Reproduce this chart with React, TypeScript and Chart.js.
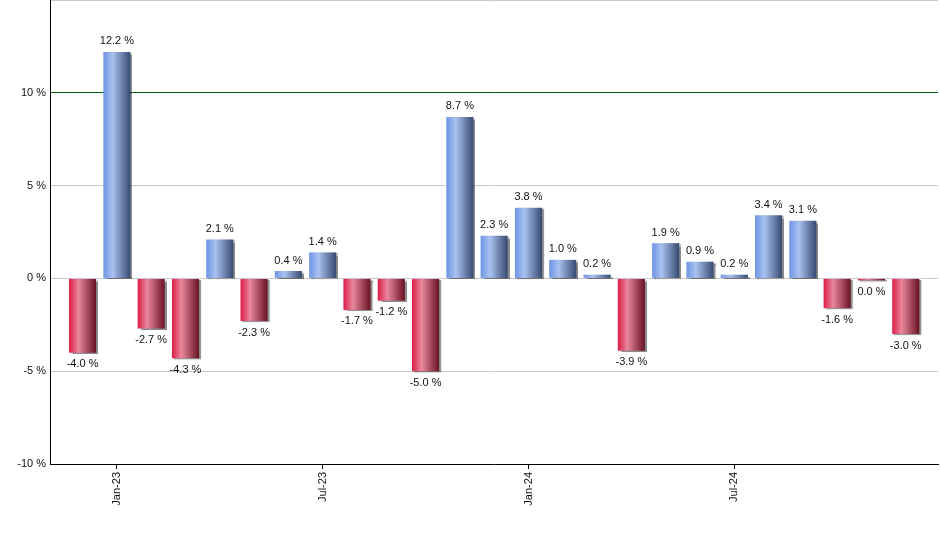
import React, { useEffect, useRef } from "react";
import { Chart, registerables } from "chart.js";

Chart.register(...registerables);

const months: string[] = [
  "Dec-22", "Jan-23", "Feb-23", "Mar-23", "Apr-23", "May-23", "Jun-23", "Jul-23",
  "Aug-23", "Sep-23", "Oct-23", "Nov-23", "Dec-23", "Jan-24", "Feb-24", "Mar-24",
  "Apr-24", "May-24", "Jun-24", "Jul-24", "Aug-24", "Sep-24", "Oct-24", "Nov-24", "Dec-24",
];
const returns: number[] = [
  -4.0, 12.2, -2.7, -4.3, 2.1, -2.3, 0.4, 1.4, -1.7, -1.2, -5.0, 8.7, 2.3, 3.8,
  1.0, 0.2, -3.9, 1.9, 0.9, 0.2, 3.4, 3.1, -1.6, -0.04, -3.0,
];
const tickIndices: number[] = [1, 7, 13, 19];
const yTicks: number[] = [-10, -5, 0, 5, 10, 15];

const FONT = "'Liberation Sans', Arial, sans-serif";

function fmt(v: number): string {
  const s = (Math.abs(v) < 0.05 ? 0 : v).toFixed(1);
  return s + " %";
}

const labelPlugin = {
  id: "valueLabels",
  afterDatasetsDraw(chart: any) {
    const ctx = chart.ctx;
    const meta = chart.getDatasetMeta(0);
    ctx.save();
    ctx.font = `11px ${FONT}`;
    ctx.fillStyle = "#111";
    ctx.textAlign = "center";
    meta.data.forEach((el: any, i: number) => {
      const v = returns[i];
      if (v >= 0) {
        ctx.textBaseline = "bottom";
        ctx.fillText(fmt(v), el.x, el.y - 5);
      } else {
        ctx.textBaseline = "top";
        ctx.fillText(fmt(v), el.x, el.y + 6);
      }
    });
    ctx.restore();
  },
};

const shadowPlugin = {
  id: "barShadow",
  beforeDatasetsDraw(chart: any) {
    const ctx = chart.ctx;
    ctx.save();
    ctx.shadowColor = "rgba(0,0,0,0.45)";
    ctx.shadowOffsetX = 2;
    ctx.shadowOffsetY = 1;
    ctx.shadowBlur = 1;
  },
  afterDatasetsDraw(chart: any) {
    chart.ctx.restore();
  },
};

export default function App() {
  const ref = useRef<HTMLCanvasElement | null>(null);
  useEffect(() => {
    if (!ref.current) return;
    const barPct = 0.79;
    const chart = new Chart(ref.current, {
      type: "bar",
      data: {
        datasets: [
          {
            data: returns.map((v, i) => ({ x: i, y: v })),
            barPercentage: barPct,
            categoryPercentage: 1,
            minBarLength: 2,
            backgroundColor: (c: any) => {
              const ch = c.chart;
              const xs = ch.scales?.x;
              const v = returns[c.dataIndex] ?? 0;
              const pos = v >= 0;
              if (!xs || !ch.chartArea) return pos ? "#7fa0e0" : "#d03050";
              const cx = xs.getPixelForValue(c.dataIndex);
              const w = (xs.getPixelForValue(1) - xs.getPixelForValue(0)) * barPct;
              const g = ch.ctx.createLinearGradient(cx - w / 2, 0, cx + w / 2, 0);
              if (pos) {
                g.addColorStop(0, "#6d94e4");
                g.addColorStop(0.35, "#a9c1f0");
                g.addColorStop(1, "#354a70");
              } else {
                g.addColorStop(0, "#dc1c46");
                g.addColorStop(0.35, "#e9879c");
                g.addColorStop(1, "#681224");
              }
              return g;
            },
            borderWidth: 0,
          },
        ],
      },
      options: {
        animation: false,
        responsive: false,
        maintainAspectRatio: false,
        layout: { padding: { top: 0, right: 2, left: 0, bottom: 0 } },
        plugins: {
          legend: { display: false },
          tooltip: { enabled: false },
        },
        scales: {
          x: {
            type: "linear",
            min: -0.95,
            max: 24.94,
            offset: false,
            afterBuildTicks: (s: any) => {
              s.ticks = tickIndices.map((v) => ({ value: v }));
            },
            afterFit: (s: any) => {
              s.height = 86;
              s.paddingLeft = 0;
              s.paddingRight = 0;
            },
            ticks: {
              autoSkip: false,
              minRotation: 90,
              maxRotation: 90,
              padding: 3,
              color: "#111",
              font: { family: FONT, size: 11 },
              callback: (v: any) => months[Math.round(Number(v))] ?? "",
            },
            grid: {
              offset: false,
              drawOnChartArea: false,
              drawTicks: true,
              tickLength: 5,
              color: "#000",
            },
            border: { display: true, color: "#000", width: 1 },
          },
          y: {
            min: -10,
            max: 15,
            afterBuildTicks: (s: any) => {
              s.ticks = yTicks.map((v) => ({ value: v }));
            },
            afterFit: (s: any) => {
              s.width = 50;
              s.paddingTop = 0;
              s.paddingBottom = 0;
            },
            ticks: {
              color: "#111",
              padding: 4,
              font: { family: FONT, size: 11 },
              callback: (v: any) => (Number(v) === 15 ? "" : `${v} %`),
            },
            grid: {
              drawTicks: false,
              color: (c: any) =>
                c.tick && c.tick.value === 10 ? "#006400" : c.tick && c.tick.value === -10 ? "rgba(0,0,0,0)" : "#c8c8c8",
              lineWidth: 1,
            },
            border: { display: true, color: "#000", width: 1 },
          },
        },
      },
      plugins: [shadowPlugin, labelPlugin],
    } as any);
    return () => chart.destroy();
  }, []);
  return (
    <div style={{ position: "fixed", left: 0, top: 0, width: 940, height: 550, background: "#fff" }}>
      <canvas ref={ref} width={940} height={550} style={{ display: "block" }} />
    </div>
  );
}
